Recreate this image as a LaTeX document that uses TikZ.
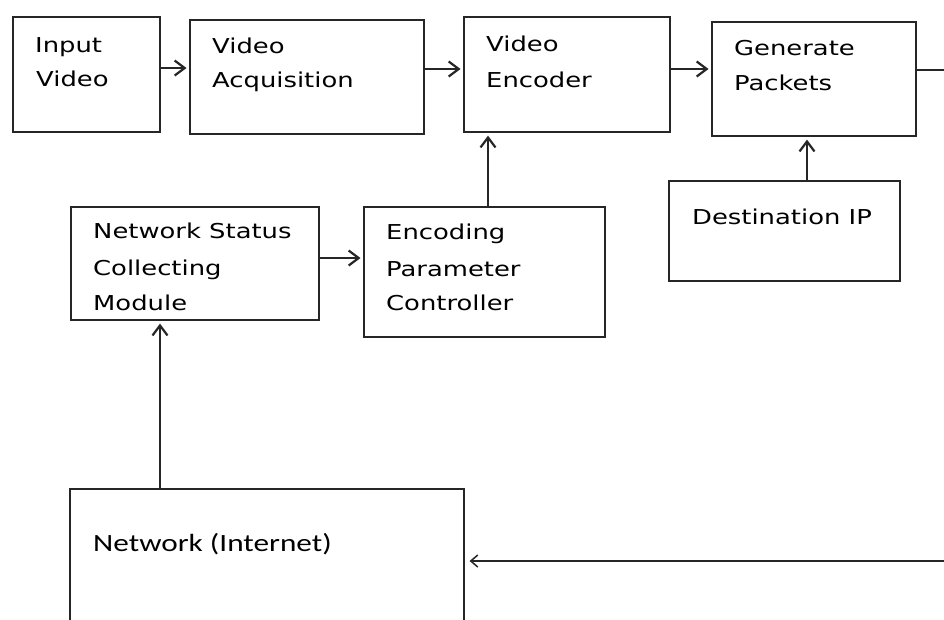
\documentclass[tikz,border=0pt]{standalone}
\usepackage{fontspec}
\setmainfont[FakeStretch=1.26]{DejaVu Sans}
\newfontfamily\calibf[FakeStretch=1.26]{Carlito}
\usetikzlibrary{arrows.meta}
\begin{document}
\begin{tikzpicture}[x=1pt,y=-1pt,
  box/.style={draw=black!85, line width=2.1pt, inner sep=0pt, anchor=north west},
  lbl/.style={anchor=base west, inner sep=0pt, font=\fontsize{20.5}{24}\selectfont},
  lblc/.style={anchor=base west, inner sep=0pt, font=\calibf\fontsize{24.8}{28}\selectfont},
  arr/.style={line width=2.2pt, draw=black!85,
    -{Straight Barb[length=10pt,width=15pt,line width=2.2pt]}, shorten >=2.5pt},
  arrthin/.style={line width=1.5pt, draw=black!85,
    -{Straight Barb[length=7pt,width=12pt,line width=1.5pt]}, shorten >=5pt}]
\useasboundingbox (0,0) rectangle (944,619);
\clip (0,0) rectangle (944,619);
\fill[white] (0,0) rectangle (944,619);

% boxes
\node[box, minimum width=147pt, minimum height=115pt] (inp) at (12,16) {};
\node[box, minimum width=234pt, minimum height=114pt] (acq) at (189,19) {};
\node[box, minimum width=206pt, minimum height=115pt] (enc) at (463,16) {};
\node[box, minimum width=204pt, minimum height=114pt] (gen) at (711,21) {};
\node[box, minimum width=231pt, minimum height=100pt] (dst) at (668,180) {};
\node[box, minimum width=248pt, minimum height=113pt] (nsc) at (70,206) {};
\node[box, minimum width=241pt, minimum height=130pt] (epc) at (363,206) {};
\node[box, line width=1.6pt, minimum width=394pt, minimum height=200pt] (net) at (69,488) {};

% texts
\node[lbl] (t1a) at (35,52) {Input};
\node[lbl] (t1b) at (36,86) {Video};
\node[lbl] (t2a) at (212,53) {Video};
\node[lbl] (t2b) at (212,87) {Acquisition};
\node[lbl] (t3a) at (486,51) {Video};
\node[lbl] (t3b) at (486,87) {Encoder};
\node[lbl] (t4a) at (734,55) {Generate};
\node[lbl] (t4b) at (734,90) {Packets};
\node[lbl] (t5) at (692,224) {Destination IP};
\node[lbl] (t6a) at (93,238) {Network Status};
\node[lbl] (t6b) at (93,275) {Collecting};
\node[lbl] (t6c) at (93,310) {Module};
\node[lbl] (t7a) at (386,239) {Encoding};
\node[lbl] (t7b) at (386,276) {Parameter};
\node[lbl] (t7c) at (386,310) {Controller};
\node[lblc] (t8) at (93,551) {Network (Internet)};

% helper coordinates
\coordinate (y1) at (0,68);
\coordinate (y2) at (0,69);
\coordinate (y3) at (0,70);
\coordinate (y4) at (0,258);
\coordinate (y5) at (0,561);
\coordinate (x1) at (488,0);
\coordinate (x2) at (807,0);
\coordinate (x3) at (160,0);
\coordinate (rtop) at (950,70);
\coordinate (rbot) at (950,561);

% connectors
\draw[arr] (inp.east |- y1) -- (acq.west |- y1);
\draw[arr] (acq.east |- y2) -- (enc.west |- y2);
\draw[arr] (enc.east |- y2) -- (gen.west |- y2);
\draw[line width=2.2pt, draw=black!85] (gen.east |- y3) -- (rtop);
\draw[arr] (dst.north -| x2) -- (gen.south -| x2);
\draw[arr] (epc.north -| x1) -- (enc.south -| x1);
\draw[arr] (nsc.east |- y4) -- (epc.west |- y4);
\draw[arr] (net.north -| x3) -- (nsc.south -| x3);
\draw[arrthin] (rbot) -- (net.east |- y5);
\end{tikzpicture}
\end{document}
